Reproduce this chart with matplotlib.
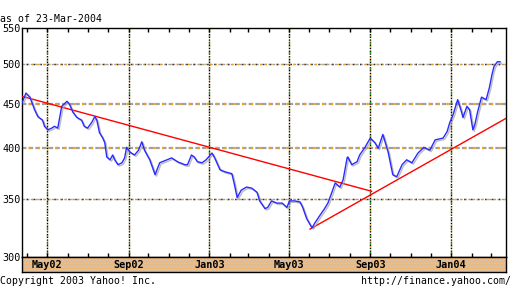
import numpy as np
import pandas as pd
import matplotlib
matplotlib.use('Agg')
import matplotlib.pyplot as plt
import matplotlib.dates as mdates
import matplotlib.patheffects as pe
from matplotlib.patches import Rectangle
from matplotlib.ticker import FixedLocator, FixedFormatter, NullLocator

# weekly-ish closes
dates = ['2002-03-24', '2002-03-30', '2002-04-05', '2002-04-12', '2002-04-17', '2002-04-24',
         '2002-04-27', '2002-05-02', '2002-05-08', '2002-05-12', '2002-05-17', '2002-05-23',
         '2002-05-31', '2002-06-04', '2002-06-09', '2002-06-15', '2002-06-22', '2002-06-26',
         '2002-07-01', '2002-07-07', '2002-07-12', '2002-07-15', '2002-07-19', '2002-07-24',
         '2002-07-27', '2002-07-30', '2002-08-04', '2002-08-08', '2002-08-11', '2002-08-16',
         '2002-08-22', '2002-08-26', '2002-08-29', '2002-09-03', '2002-09-10', '2002-09-16',
         '2002-09-21', '2002-09-25', '2002-10-03', '2002-10-11', '2002-10-18', '2002-10-29',
         '2002-11-05', '2002-11-14', '2002-11-25', '2002-11-29', '2002-12-05', '2002-12-09',
         '2002-12-14', '2002-12-21', '2002-12-27', '2003-01-05', '2003-01-09', '2003-01-17',
         '2003-01-24', '2003-02-04', '2003-02-08', '2003-02-12', '2003-02-18', '2003-02-26',
         '2003-03-06', '2003-03-14', '2003-03-18', '2003-03-26', '2003-03-30', '2003-04-05',
         '2003-04-13', '2003-04-21', '2003-04-28', '2003-05-02', '2003-05-10', '2003-05-18',
         '2003-05-22', '2003-05-28', '2003-06-05', '2003-06-09', '2003-06-17', '2003-06-24',
         '2003-06-29', '2003-07-05', '2003-07-10', '2003-07-17', '2003-07-22', '2003-07-28',
         '2003-07-29', '2003-08-04', '2003-08-12', '2003-08-16', '2003-08-24', '2003-09-01',
         '2003-09-08', '2003-09-13', '2003-09-20', '2003-09-28', '2003-10-05', '2003-10-11',
         '2003-10-19', '2003-10-26', '2003-11-03', '2003-11-12', '2003-11-21', '2003-11-30',
         '2003-12-08', '2003-12-20', '2003-12-26', '2003-12-30', '2004-01-04', '2004-01-11',
         '2004-01-17', '2004-01-19', '2004-01-25', '2004-01-29', '2004-02-03', '2004-02-06',
         '2004-02-10', '2004-02-16', '2004-02-23', '2004-02-28', '2004-03-03', '2004-03-06',
         '2004-03-11', '2004-03-15']
closes = [451, 463, 458, 443, 435, 431,
          424, 420, 422, 424, 422, 447,
          453, 449, 440, 434, 431, 424,
          422, 428, 435, 431, 417, 411,
          406, 391, 388, 393, 388, 383,
          385, 390, 401, 396, 393, 398,
          407, 398, 388, 373, 385, 388,
          390, 386, 383, 383, 393, 391,
          386, 385, 388, 395, 390, 378,
          376, 374, 363, 351, 358, 361,
          360, 356, 348, 341, 342, 348,
          346, 346, 342, 348, 348, 347,
          342, 332, 324, 328, 335, 341,
          346, 356, 365, 361, 368, 390,
          391, 383, 386, 393, 401, 411,
          406, 400, 415, 396, 373, 371,
          383, 388, 385, 395, 401, 398,
          409, 411, 418, 428, 437, 455,
          440, 434, 447, 443, 420, 426,
          440, 458, 455, 470, 487, 497,
          503, 503]

trend1_dates = ['2002-03-24', '2003-09-03']
trend1_vals = [459, 357]
trend2_dates = ['2003-06-02', '2004-03-24']
trend2_vals = [323, 433]

y_ticks = [300, 350, 400, 450, 500, 550]
x_labels = ['May02', 'Sep02', 'Jan03', 'May03', 'Sep03', 'Jan04']
x_label_dates = ['2002-05-01', '2002-09-01', '2003-01-01', '2003-05-01', '2003-09-01', '2004-01-01']

plt.rcParams['font.family'] = 'DejaVu Sans Mono'
W, H = 511, 287
fig = plt.figure(figsize=(W / 100, H / 100), dpi=100)
ax = fig.add_axes([22 / W, 1 - 257 / H, 484 / W, 229 / H])
band = fig.add_axes([22 / W, 1 - 272 / H, 484 / W, 15 / H], sharex=ax)

x = pd.to_datetime(dates)
xg = pd.to_datetime(x_label_dates)

ax.set_yscale('log')
ax.set_ylim(300, 550)
ax.set_xlim(pd.Timestamp('2002-03-24'), pd.Timestamp('2004-03-24'))
ax.yaxis.set_major_locator(FixedLocator(y_ticks))
ax.yaxis.set_major_formatter(FixedFormatter([str(v) for v in y_ticks]))
ax.yaxis.set_minor_locator(NullLocator())
ax.tick_params(axis='y', length=0, labelsize=7.3, pad=1)

ax.xaxis.set_major_locator(mdates.MonthLocator())
ax.tick_params(axis='x', which='both', direction='in', top=True, bottom=True,
               length=3, width=1, labelbottom=False)

# dotted, speckled grid lines
for v in y_ticks[1:-1]:
    w = 1.6 if v in (400, 450) else 1.0
    ax.axhline(v, color='#a0a0a0', lw=w, ls=(0, (2, 1)), zorder=1)
    ax.axhline(v, color='#f0a020', lw=w, ls=(1, (1, 3)), zorder=1)
    if w < 1.5:
        ax.axhline(v, color='#303030', lw=w, ls=(2, (1, 4)), zorder=1)
for d in xg:
    ax.axvline(d, color='black', lw=1.0, ls=(0, (1, 1)), zorder=1)
    ax.axvline(d, color='#f0a020', lw=1.0, ls=(1, (1, 3)), zorder=1)
    ax.axvline(d, color='#20a020', lw=1.0, ls=(3, (1, 5)), zorder=1)

ax.plot(pd.to_datetime(trend1_dates), trend1_vals, color='#ff0000', lw=1, zorder=3)
ax.plot(pd.to_datetime(trend2_dates), trend2_vals, color='#ff0000', lw=1, zorder=3)
ax.plot(x, closes, color='#2a2aff', lw=1.0, zorder=4,
        path_effects=[pe.SimpleLineShadow(offset=(1, -1), shadow_color='#a0a0a0', alpha=0.7),
                      pe.Normal()])

for s in ax.spines.values():
    s.set_color('black')
    s.set_linewidth(1)

band.set_facecolor('#efb878')
band.add_patch(Rectangle((0, 0), 1, 1, transform=band.transAxes, facecolor='none',
                         edgecolor='#c8c8c8', hatch='.....', lw=0))
band.set_ylim(0, 1)
band.tick_params(axis='both', which='both', length=0, labelbottom=False, labelleft=False)
for d, lab in zip(xg, x_labels):
    band.text(d, 0.45, lab, ha='center', va='center', fontsize=7.3, fontweight='bold')
for s in band.spines.values():
    s.set_color('black')
    s.set_linewidth(1)

fig.text(0, 1 - 19 / H, 'as of 23-Mar-2004', ha='left', va='center', fontsize=7.1)
fig.text(0, 1 - 281 / H, 'Copyright 2003 Yahoo! Inc.', ha='left', va='center', fontsize=7.1)
fig.text(1, 1 - 281 / H, 'http://finance.yahoo.com/', ha='right', va='center', fontsize=7.1)

fig.savefig('out.png', dpi=100)
